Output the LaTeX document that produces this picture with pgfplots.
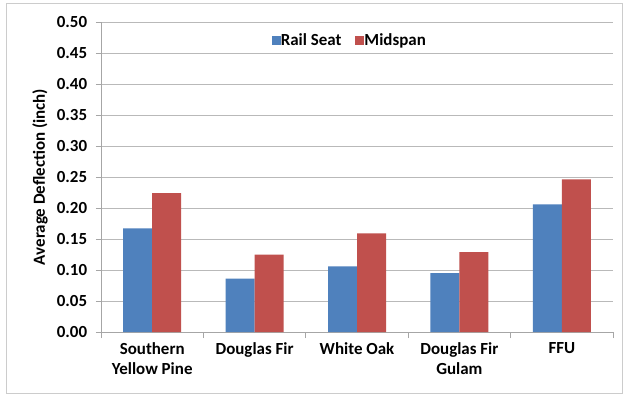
\documentclass[border=0pt]{standalone}
\usepackage{fontspec}
\setmainfont{Carlito}
\usepackage{pgfplots}
\pgfplotsset{compat=1.18}
\definecolor{xblue}{HTML}{4F81BD}
\definecolor{xred}{HTML}{C0504D}
\begin{document}
\fontsize{17}{20}\selectfont\bfseries
\begin{tikzpicture}[x=1bp,y=1bp]
\path[use as bounding box, fill=white] (-101,-64) rectangle (525,332);
\draw[gray!40, line width=1bp] (-94,-61) rectangle (521,329);
\begin{axis}[
  at={(0,0)}, anchor=south west,
  scale only axis, width=512bp, height=310bp,
  ymin=0, ymax=0.5, xmin=-0.5, xmax=4.5,
  ytick={0,0.05,0.10,0.15,0.20,0.25,0.30,0.35,0.40,0.45,0.50},
  yticklabel style={xshift=-3bp, /pgf/number format/.cd, fixed, fixed zerofill, precision=2, assume math mode=true},
  xtick={0,1,2,3,4},
  xticklabels={Southern\\Yellow Pine, Douglas Fir, White Oak, Douglas Fir\\Gulam, FFU},
  xticklabel style={align=center},
  minor xtick={-0.5,0.5,1.5,2.5,3.5,4.5},
  major x tick style={draw=none},
  major tick length=5bp, minor tick length=6bp,
  tick align=outside,
  tick style={gray!70, line width=0.8bp},
  axis x line*=bottom, axis y line*=left,
  axis line style={-, gray!70, line width=0.9bp},
  ymajorgrids, grid style={gray!55, line width=0.9bp},
  ybar=0pt, bar width=29bp,
  every axis y label/.style={at={(axis description cs:-0.119,0.5)}, rotate=90, anchor=center},
  ylabel={Average Deflection (inch)},
  legend style={at={(axis description cs:0.486,0.939)}, anchor=center, draw=none, fill=none,
    legend columns=2, /tikz/every even column/.style={column sep=12bp},
    /tikz/every odd column/.style={column sep=-2bp}},
  legend image code/.code={\fill[#1] (0bp,-4.5bp) rectangle (9bp,4.5bp);},
]
\addplot[fill=xblue, draw=none] coordinates {(0,0.167) (1,0.086) (2,0.106) (3,0.095) (4,0.206)};
\addplot[fill=xred, draw=none] coordinates {(0,0.224) (1,0.125) (2,0.159) (3,0.129) (4,0.246)};
\legend{Rail Seat, Midspan}
\end{axis}
\end{tikzpicture}
\end{document}
